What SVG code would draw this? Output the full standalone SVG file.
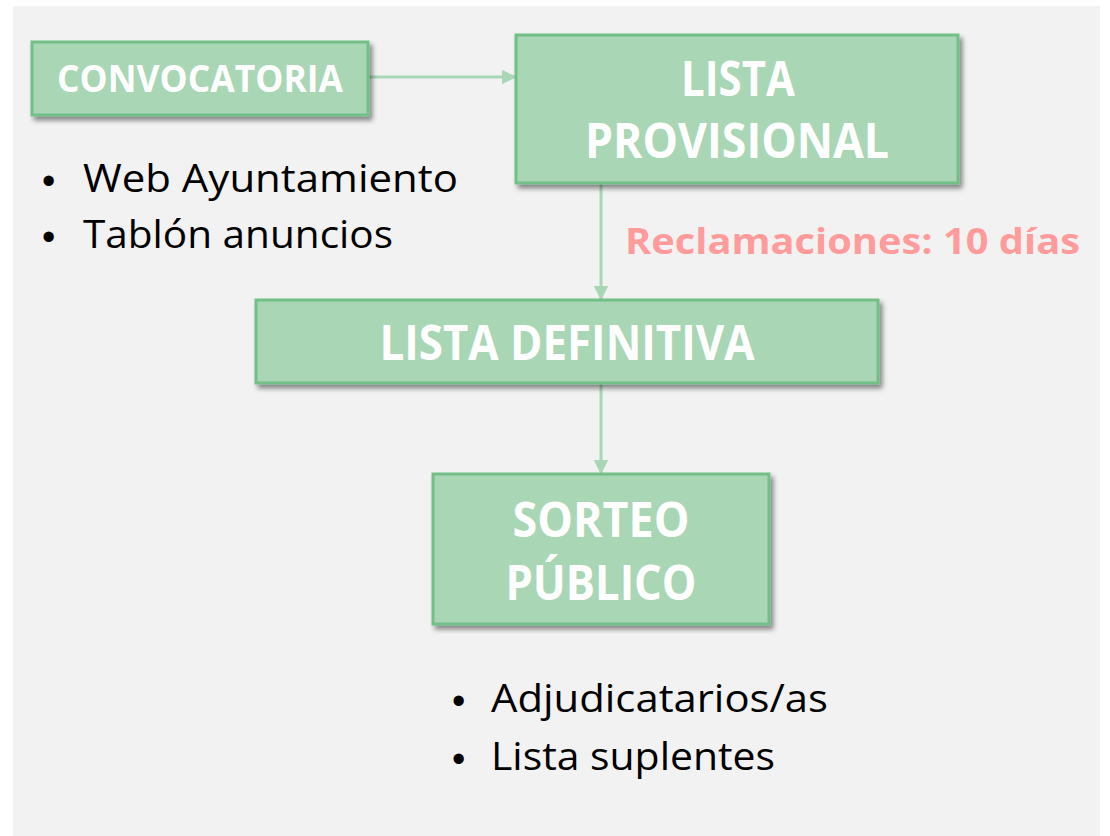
<svg xmlns="http://www.w3.org/2000/svg" width="1110" height="836" viewBox="0 0 1110 836">
  <defs>
    <style>
      .box { fill: #A9D6B5; stroke: #72BF88; stroke-width: 3; filter: url(#sh); }
      .bt { font-family: "Open Sans", "Liberation Sans", sans-serif; font-weight: bold; fill: #FFFFFF; text-anchor: middle; }
      .bl { font-family: "Open Sans", "Liberation Sans", sans-serif; fill: #000000; font-size: 38px; }
      .dot { font-family: "Liberation Sans", sans-serif; fill: #000000; font-size: 38px; }
      .con { stroke: #A9D6B5; stroke-width: 3; fill: none; marker-end: url(#ah); }
      .lab { font-family: "Open Sans", "Liberation Sans", sans-serif; font-weight: bold; fill: #FF9B9B; font-size: 36px; }
    </style>
    <filter id="sh" x="-10%" y="-10%" width="125%" height="135%">
      <feDropShadow dx="3" dy="4" stdDeviation="2.5" flood-color="#000000" flood-opacity="0.45"/>
    </filter>
    <marker id="ah" markerWidth="5" markerHeight="5" refX="4.5" refY="2.5" orient="auto" markerUnits="strokeWidth">
      <path d="M0,0 L5,2.5 L0,5 Z" fill="#A9D6B5"/>
    </marker>
  </defs>
  <rect x="0" y="0" width="1110" height="836" fill="#FFFFFF"/>
  <rect x="13" y="6" width="1087" height="830" fill="#F2F2F2"/>

  <g id="connectors">
    <line class="con" x1="369" y1="77" x2="515" y2="77"/>
    <line class="con" x1="601" y1="184" x2="601" y2="299"/>
    <line class="con" x1="601" y1="384" x2="601" y2="473"/>
    <text class="lab" x="625" y="254" textLength="455" lengthAdjust="spacingAndGlyphs">Reclamaciones: 10 días</text>
  </g>

  <g id="convocatoria">
    <rect class="box" x="32" y="42" width="336" height="73"/>
    <text class="bt" x="200" y="92" font-size="38" textLength="286" lengthAdjust="spacingAndGlyphs">CONVOCATORIA</text>
  </g>
  <g id="convocatoria-notes">
    <text class="dot" x="42" y="194">•</text>
    <text class="bl" x="83" y="192" textLength="375" lengthAdjust="spacingAndGlyphs">Web Ayuntamiento</text>
    <text class="dot" x="42" y="250">•</text>
    <text class="bl" x="83" y="248" textLength="310" lengthAdjust="spacingAndGlyphs">Tablón anuncios</text>
  </g>

  <g id="lista-provisional">
    <rect class="box" x="516" y="35" width="442" height="148"/>
    <text class="bt" x="738" y="96" font-size="48" textLength="114" lengthAdjust="spacingAndGlyphs">LISTA</text>
    <text class="bt" x="737" y="158" font-size="48" textLength="304" lengthAdjust="spacingAndGlyphs">PROVISIONAL</text>
  </g>

  <g id="lista-definitiva">
    <rect class="box" x="256" y="300" width="622" height="83"/>
    <text class="bt" x="567" y="360" font-size="48" textLength="375" lengthAdjust="spacingAndGlyphs">LISTA DEFINITIVA</text>
  </g>

  <g id="sorteo-publico">
    <rect class="box" x="433" y="474" width="336" height="150"/>
    <text class="bt" x="601" y="537" font-size="48" textLength="177" lengthAdjust="spacingAndGlyphs">SORTEO</text>
    <text class="bt" x="601" y="600" font-size="48" textLength="191" lengthAdjust="spacingAndGlyphs">PÚBLICO</text>
  </g>
  <g id="sorteo-notes">
    <text class="dot" x="452" y="714">•</text>
    <text class="bl" x="491" y="712" textLength="337" lengthAdjust="spacingAndGlyphs">Adjudicatarios/as</text>
    <text class="dot" x="452" y="772">•</text>
    <text class="bl" x="491" y="770" textLength="284" lengthAdjust="spacingAndGlyphs">Lista suplentes</text>
  </g>
</svg>
